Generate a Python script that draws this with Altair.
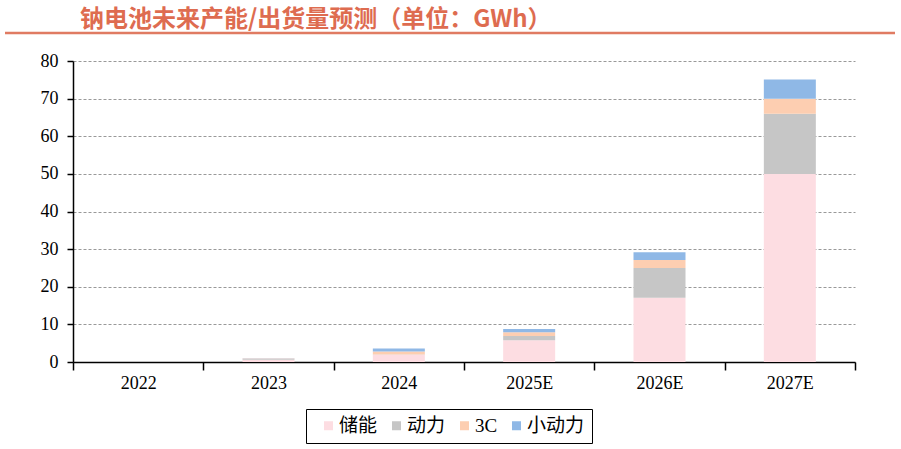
import altair as alt
import pandas as pd

years = ["2022", "2023", "2024", "2025E", "2026E", "2027E"]
series = ["储能", "动力", "3C", "小动力"]
colors = ["#FDDDE2", "#C6C6C6", "#FDCEB1", "#8FB8E6"]
storage = [0, 0.6, 1.9, 5.8, 17.1, 50.0]
power = [0, 0.2, 0.1, 1.1, 7.9, 16.0]
c3 = [0, 0.1, 0.8, 1.0, 2.1, 4.0]
small_power = [0, 0.1, 0.8, 0.9, 2.1, 5.1]

rows = []
for i, y in enumerate(years):
    for k, (s, vals) in enumerate(zip(series, [storage, power, c3, small_power])):
        rows.append({"year": y, "series": s, "value": vals[i], "ord": k})
df = pd.DataFrame(rows)

title_text = "钠电池未来产能/出货量预测（单位：GWh）"

bars = alt.Chart(df).mark_bar(size=52).encode(
    x=alt.X("year:N", sort=years, title=None,
            scale=alt.Scale(paddingInner=0, paddingOuter=0),
            axis=alt.Axis(labelAngle=0, tickBand="extent", domainColor="black",
                          domainWidth=1.5, tickColor="black", tickWidth=1.5, tickSize=8,
                          labelFont="Liberation Serif", labelFontSize=18, labelColor="black",
                          labelPadding=4, grid=False)),
    y=alt.Y("value:Q", stack="zero", title=None,
            scale=alt.Scale(domain=[0, 80], nice=False),
            axis=alt.Axis(values=list(range(0, 81, 10)), domainColor="black", domainWidth=1.5,
                          tickColor="black", tickWidth=1.5, tickSize=6,
                          labelFont="Liberation Serif", labelFontSize=18, labelColor="black",
                          labelPadding=9, grid=True, gridColor="#999999", gridDash=[3, 2],
                          gridWidth=1)),
    color=alt.Color("series:N", scale=alt.Scale(domain=series, range=colors),
                    legend=alt.Legend(title=None, orient="none", legendX=233, legendY=348,
                                      direction="horizontal", columns=4,
                                      strokeColor="black", padding=7,
                                      symbolType="square", symbolSize=81, symbolStrokeWidth=0,
                                      labelFont="Liberation Serif, Noto Sans CJK SC",
                                      labelFontSize=19, labelColor="black",
                                      columnPadding=3, symbolOffset=6, labelOffset=1)),
    order=alt.Order("ord:Q", sort="ascending"),
)

title = alt.Chart(pd.DataFrame({"t": [title_text]})).mark_text(
    align="left", baseline="middle", font="Noto Sans CJK SC", fontWeight="bold",
    fontSize=24, color="#DE6C50"
).encode(x=alt.value(7), y=alt.value(-41), text="t:N")

line = alt.Chart(pd.DataFrame({"a": [0]})).mark_rule(color="#E07B62", strokeWidth=2.5).encode(
    x=alt.value(-68), x2=alt.value(822), y=alt.value(-28)
)

chart = alt.layer(bars, title, line).properties(
    width=782, height=301,
    background="white",
    autosize=alt.AutoSizeParams(type="none"),
    padding={"left": 73, "top": 61, "right": 46, "bottom": 87},
).configure_view(strokeWidth=0, strokeOpacity=0)

chart.save("out.html", embed_options={"renderer": "svg", "actions": False})
